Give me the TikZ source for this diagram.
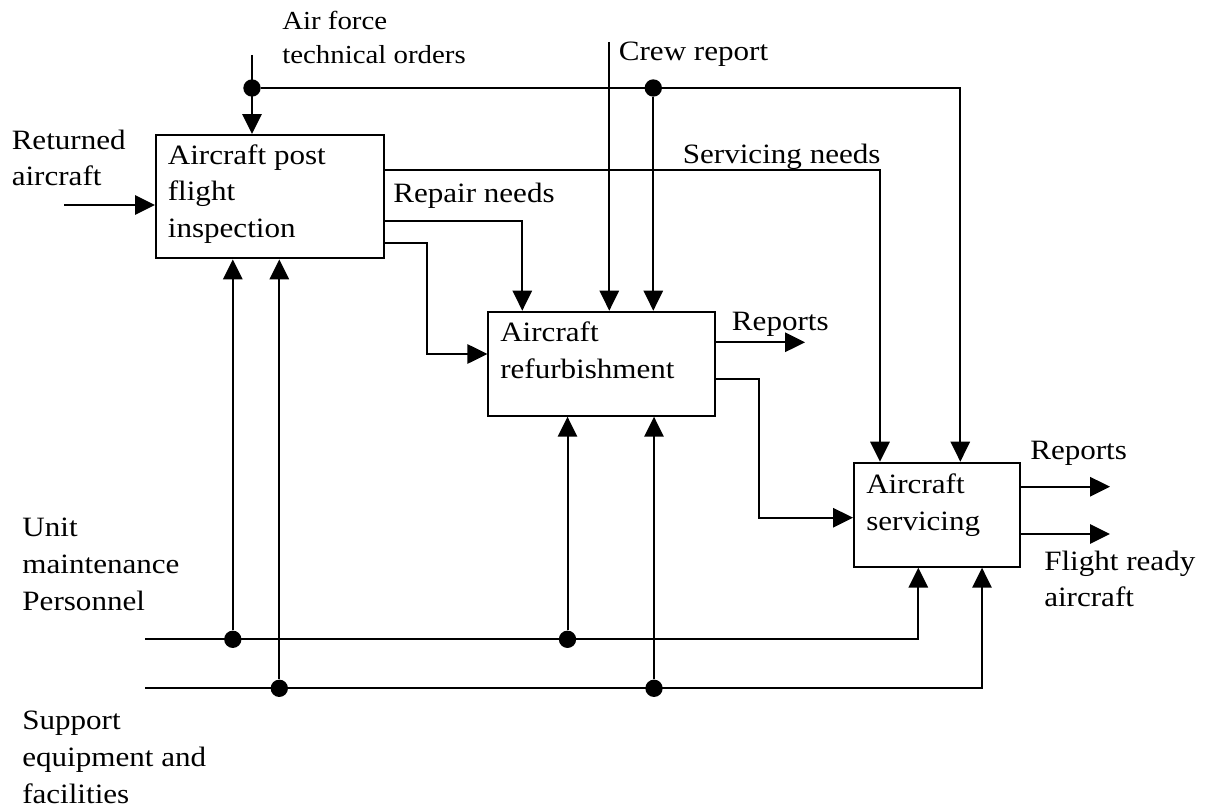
\documentclass[tikz,border=0pt]{standalone}
\usepackage{fontspec}
\setmainfont[FakeStretch=1.11]{Liberation Serif}
\usetikzlibrary{arrows.meta}

\begin{document}
\begin{tikzpicture}[x=0.75pt,y=-0.75pt,
  link/.style={line width=1.5pt},
  arr/.style={link,-{Triangle[length=15pt,width=14.5pt]}},
  procbox/.style={draw,line width=1.5pt,inner sep=0pt},
  lbl/.style={anchor=base west,inner sep=0pt,align=left,font=\fontsize{21}{27.5}\selectfont},
  smalllbl/.style={lbl,font=\fontsize{19.5}{25}\selectfont},
  jdot/.style={circle,fill,inner sep=0pt,minimum size=13pt}]

\useasboundingbox (0,0) rectangle (1209,809);

% activity boxes
\node[procbox,minimum width=170.7pt,minimum height=92.5pt] (b1) at (269.8,196.7) {};
\node[procbox,minimum width=170pt,minimum height=78pt] (b2) at (601.7,363.7) {};
\node[procbox,minimum width=124.5pt,minimum height=78pt] (b3) at (937,514.7) {};

% box texts (anchored on the baseline of their last line)
\node[lbl] (t1) at (167.6,237.5) {Aircraft post\\flight\\inspection};
\node[lbl] (t2) at (500,378) {Aircraft\\refurbishment};
\node[lbl] (t3) at (866,530) {Aircraft\\servicing};

% free ends and junctions
\coordinate (af) at (252,55);
\coordinate (cr) at (609.3,42);
\coordinate (ra) at (64.4,205);
\coordinate (m0) at (145,639.3);
\coordinate (s0) at (145,688.3);
\coordinate (rep2) at (805,342.3);
\coordinate (rep3) at (1110,486.7);
\coordinate (fra) at (1110,534);

\node[jdot] (j1) at (252,88) {};
\node[jdot] (j2) at (653.3,88) {};
\node[jdot] (d1) at (232.8,639.3) {};
\node[jdot] (d2) at (567.5,639.3) {};
\node[jdot] (d3) at (279.3,688.3) {};
\node[jdot] (d4) at (654,688.3) {};

% controls from the top
\draw[arr] (af) -- (af |- b1.north);
\draw[arr] (j1) -| (b3.north -| 960.3,0);
\draw[arr] (j2) -- (j2 |- b2.north);
\draw[arr] (cr) -- (cr |- b2.north);

% outputs of the inspection
\draw[arr] (b1.east |- 0,170) -| (b3.north -| 880,0);
\draw[arr] (b1.east |- 0,221) -| (b2.north -| 522.3,0);
\draw[arr] (b1.east |- 0,242.7) -| (427,354) -- (b2.west |- 0,354);

% inputs and outputs
\draw[arr] (ra) -- (b1.west |- ra);
\draw[arr] (b2.east |- rep2) -- (rep2);
\draw[arr] (b2.east |- 0,379.3) -| (759.3,517.7) -- (b3.west |- 0,517.7);
\draw[arr] (b3.east |- rep3) -- (rep3);
\draw[arr] (b3.east |- fra) -- (fra);

% mechanisms from below
\draw[arr] (m0) -| (b3.south -| 918.3,0);
\draw[arr] (s0) -| (b3.south -| 982,0);
\draw[arr] (d1) -- (d1 |- b1.south);
\draw[arr] (d3) -- (d3 |- b1.south);
\draw[arr] (d2) -- (d2 |- b2.south);
\draw[arr] (d4) -- (d4 |- b2.south);

% labels (anchored on the baseline of their last line)
\node[smalllbl] (laf) at (282,63.3) {Air force\\technical orders};
\node[lbl] (lcr) at (618.6,61) {Crew report};
\node[lbl] (lra) at (11.5,186) {Returned\\aircraft};
\node[lbl] (lsn) at (682.6,163.3) {Servicing needs};
\node[lbl] (lrn) at (393,202.7) {Repair needs};
\node[lbl] (lr2) at (731.7,330) {Reports};
\node[lbl] (lr3) at (1030,459) {Reports};
\node[lbl] (lfr) at (1044,606.7) {Flight ready\\aircraft};
\node[lbl] (lum) at (22.2,610) {Unit\\maintenance\\Personnel};
\node[lbl] (lse) at (22,803.3) {Support\\equipment and\\facilities};
\end{tikzpicture}
\end{document}
